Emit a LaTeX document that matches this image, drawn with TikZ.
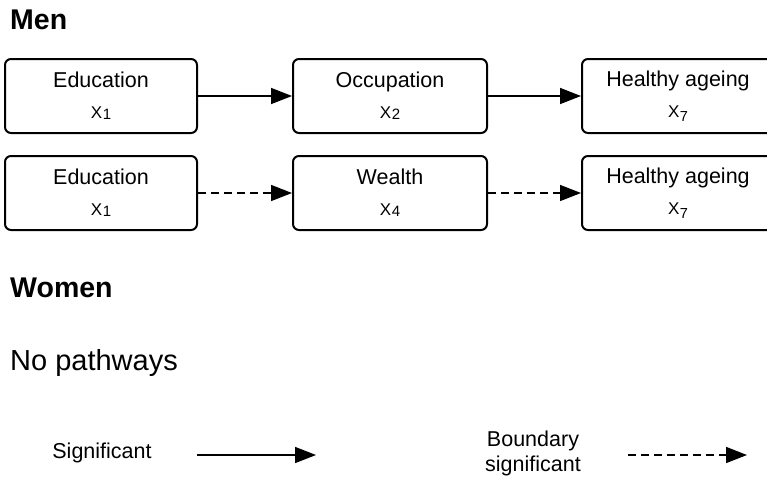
\documentclass[tikz,border=0pt]{standalone}
\usepackage{fontspec}
\setmainfont{Liberation Sans}
\usetikzlibrary{arrows.meta}

% variable names: X with a lowered, smaller index
\newcommand{\varX}[1]{{\fontsize{17}{20}\selectfont X}\kern0.6pt\raisebox{-1pt}{\fontsize{15}{17}\selectfont #1}}
\newcommand{\varXlow}[1]{{\fontsize{17}{20}\selectfont X}\kern0.4pt\raisebox{-4.5pt}{\fontsize{14.5}{17}\selectfont #1}}

\tikzset{
  stagebox/.style={draw=black, line width=2pt, rounded corners=6pt,
    minimum width=192pt, minimum height=74pt, inner sep=0pt,
    align=center, font=\fontsize{21.5}{31}\selectfont},
  title/.style={anchor=base west, inner sep=0pt, font=\fontsize{28.5}{30}\selectfont\bfseries},
  plaintext/.style={inner sep=0pt, font=\fontsize{21.5}{25}\selectfont, align=center},
  sig/.style={line width=1.6pt, -{Triangle[length=21pt,width=16pt]}},
  boundary/.style={sig, dash pattern=on 8pt off 5pt},
}

\begin{document}
\begin{tikzpicture}[x=1pt, y=-1pt]
  \clip (0,0) rectangle (767,485);
  \fill[white] (0,0) rectangle (767,485);

  % section headings
  \node[title] (men) at (10,29) {Men};
  \node[title] (women) at (10,297) {Women};
  \node[anchor=base west, inner sep=0pt, font=\fontsize{29}{31}\selectfont] (none) at (10,370) {No pathways};

  % men: education -> occupation -> healthy ageing
  \node[stagebox] (edu1) at (101,96) {Education\\\varX{1}};
  \node[stagebox, minimum width=194pt] (occ) at (390,96) {Occupation\\\varX{2}};
  \node[stagebox] (ha1) at (678,96) {Healthy ageing\\\varXlow{7}};

  % men: education -> wealth -> healthy ageing
  \node[stagebox] (edu2) at (101,193) {Education\\\varX{1}};
  \node[stagebox, minimum width=194pt] (wealth) at (390,193) {Wealth\\\varX{4}};
  \node[stagebox] (ha2) at (678,193) {Healthy ageing\\\varXlow{7}};

  \draw[sig] (edu1) -- (occ);
  \draw[sig] (occ) -- (ha1);
  \draw[boundary] (edu2) -- (wealth);
  \draw[boundary] (wealth) -- (ha2);

  % legend
  \node[plaintext] (sigtext) at (102,453) {Significant};
  \coordinate (sigA) at (197,455);
  \coordinate (sigB) at (316,455);
  \draw[sig] (sigA) -- (sigB);

  \node[plaintext] (bndtext) at (533,453) {Boundary\\significant};
  \coordinate (bndA) at (628,455);
  \coordinate (bndB) at (747,455);
  \draw[boundary] (bndA) -- (bndB);
\end{tikzpicture}
\end{document}
